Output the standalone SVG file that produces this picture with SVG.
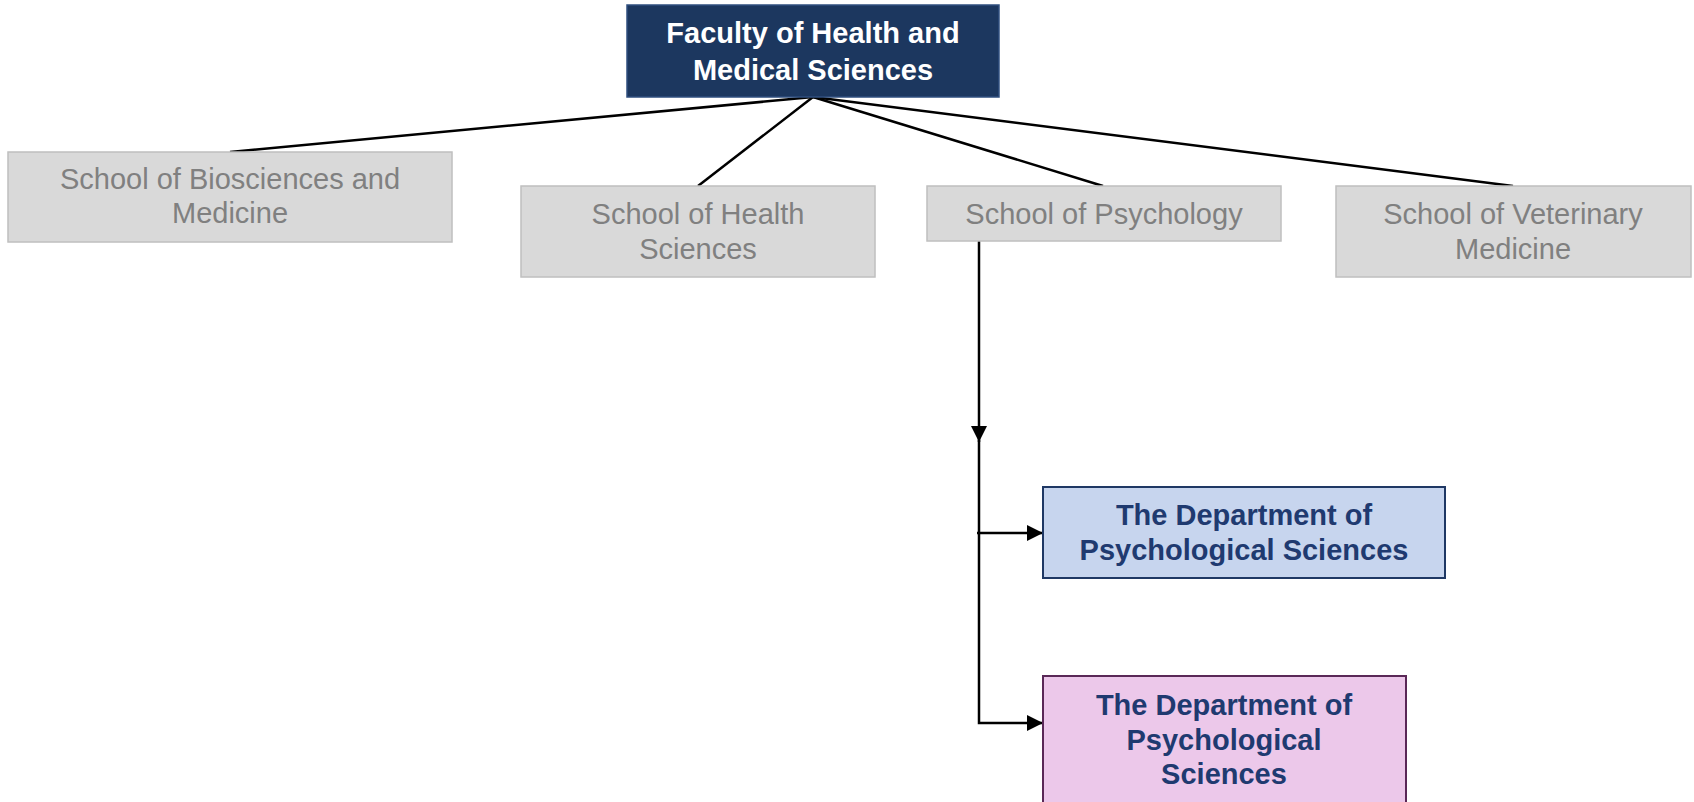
<svg xmlns="http://www.w3.org/2000/svg" width="1694" height="802" viewBox="0 0 1694 802">
<style>
text{font-family:"Liberation Sans",Arial,sans-serif;font-size:29px;text-anchor:middle}
.gray rect{fill:#d9d9d9;stroke:#bfbfbf;stroke-width:1.5}
.gray text{fill:#808080}
.top rect{fill:#1c375f;stroke:#2f4f7f;stroke-width:1.5}
.top text{fill:#ffffff;font-weight:bold}
.dept text{fill:#1f3a70;font-weight:bold}
.conn{fill:none;stroke:#000;stroke-width:2.5}
</style>
<defs>
<marker id="arr" markerUnits="userSpaceOnUse" markerWidth="18" markerHeight="16" refX="16" refY="8" orient="auto">
<path d="M0,0 L16,8 L0,16 Z" fill="#000"/>
</marker>
</defs>
<g id="connectors">
<line class="conn" x1="813" y1="97" x2="230" y2="152"/>
<line class="conn" x1="813" y1="97" x2="698" y2="186"/>
<line class="conn" x1="813" y1="97" x2="1103" y2="186"/>
<line class="conn" x1="813" y1="97" x2="1513" y2="186"/>
<path class="conn" d="M979,241 L979,442" marker-end="url(#arr)"/>
<path class="conn" d="M979,440 L979,723 L1043,723" marker-end="url(#arr)"/>
<path class="conn" d="M977,533 L1043,533" marker-end="url(#arr)"/>
</g>
<g id="faculty" class="top">
<rect x="627" y="5" width="372" height="92"/>
<text x="813" y="43">Faculty of Health and</text>
<text x="813" y="80">Medical Sciences</text>
</g>
<g id="biosciences" class="gray">
<rect x="8" y="152" width="444" height="90"/>
<text x="230" y="189">School of Biosciences and</text>
<text x="230" y="223">Medicine</text>
</g>
<g id="health" class="gray">
<rect x="521" y="186" width="354" height="91"/>
<text x="698" y="224">School of Health</text>
<text x="698" y="259">Sciences</text>
</g>
<g id="psychology" class="gray">
<rect x="927" y="186" width="354" height="55"/>
<text x="1104" y="224">School of Psychology</text>
</g>
<g id="veterinary" class="gray">
<rect x="1336" y="186" width="355" height="91"/>
<text x="1513" y="224">School of Veterinary</text>
<text x="1513" y="259">Medicine</text>
</g>
<g id="dept1" class="dept">
<rect x="1043" y="487" width="402" height="91" fill="#c7d5ee" stroke="#1f3864" stroke-width="2"/>
<text x="1244" y="525">The Department of</text>
<text x="1244" y="560">Psychological Sciences</text>
</g>
<g id="dept2" class="dept">
<rect x="1043" y="676" width="363" height="140" fill="#ecc8ea" stroke="#5a2857" stroke-width="2"/>
<text x="1224" y="715">The Department of</text>
<text x="1224" y="750">Psychological</text>
<text x="1224" y="784">Sciences</text>
</g>
</svg>
